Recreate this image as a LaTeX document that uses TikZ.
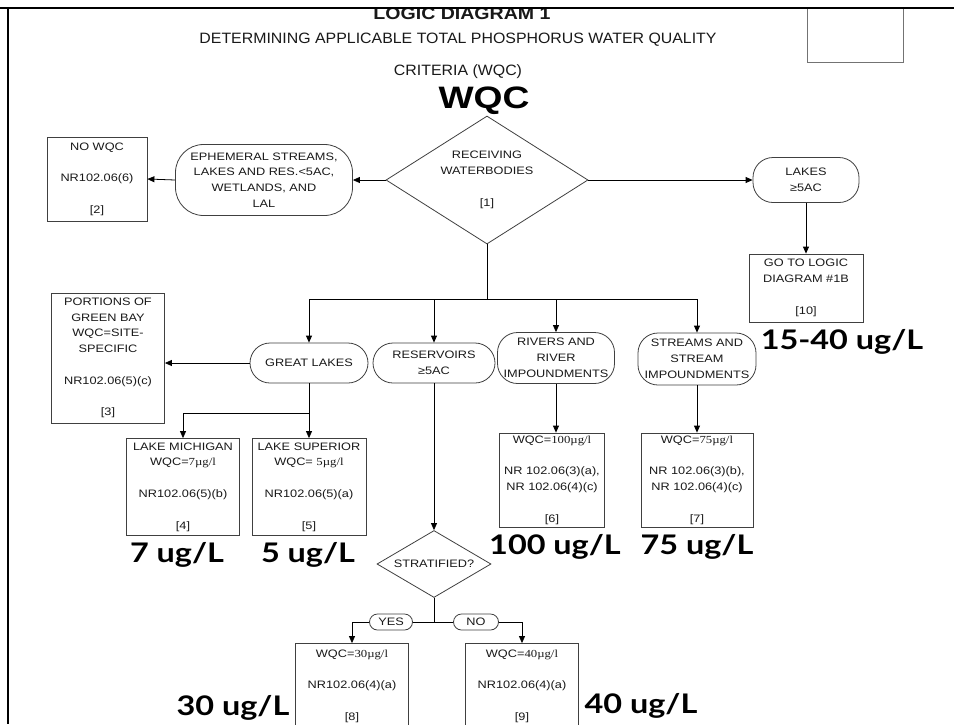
\documentclass[tikz,border=0pt]{standalone}
\usepackage{fontspec}
\usepackage{tikz}
\usetikzlibrary{shapes.geometric,arrows.meta}
\newfontfamily\boxfont[FakeStretch=1.18]{Liberation Sans}
\newfontfamily\unitfont[FakeStretch=1.18]{Liberation Serif}
\newfontfamily\headfont[FakeStretch=1.06]{Liberation Sans}
\newfontfamily\titlefont[FakeStretch=1.15]{Liberation Sans}
\newfontfamily\wqcfont[FakeStretch=1.2]{Liberation Sans}
\newfontfamily\valuefont[FakeStretch=1.2]{Lato}
\newcommand{\ugl}[1]{{\unitfont #1\textmu g/l}}

\begin{document}
\begin{tikzpicture} [x=1pt, y=-1pt,
	txt/.style={font=\boxfont\fontsize{10.8}{15.8}\selectfont, text=black!90, align=center, inner sep=0pt},
	box/.style={txt, draw=black!75, line width=0.8pt},
	stadium/.style={txt, draw=black!75, line width=0.8pt, rounded corners=20pt},
	decision/.style={txt, diamond, draw=black!75, line width=0.8pt},
	tag/.style={txt, draw=black!75, line width=0.8pt, rounded corners=8pt, minimum height=16pt, fill=white},
	heading/.style={font=\headfont\fontsize{15}{15}\selectfont, text=black!90},
	value/.style={font=\valuefont\bfseries\fontsize{27}{27}\selectfont, anchor=base},
	flow/.style={draw=black, line width=0.8pt, -{Triangle[length=7pt, width=6pt]}},
	link/.style={draw=black, line width=0.8pt}]
										\clip (0,0) rectangle (954,724);
										\fill [white] (0,0) rectangle (954,724);
										% headings
										\node [heading, font=\titlefont\bfseries\fontsize{17}{17}\selectfont] (title) at (462,14) {LOGIC DIAGRAM 1};
										\node [heading] (subtitle) at (458,40) {DETERMINING APPLICABLE TOTAL PHOSPHORUS WATER QUALITY};
										\node [heading] (criteria) at (458,72) {CRITERIA (WQC)};
										\node [font=\wqcfont\bfseries\fontsize{31}{31}\selectfont, anchor=base] (wqc) at (484,108) {WQC};
										\draw [black!55, line width=0.8pt] (807,8) rectangle (903,62);
										% first level
										\node [decision, aspect=1.6, minimum width=202pt, minimum height=128pt] (recv) at (487,180) {RECEIVING\\WATERBODIES\\[15.8pt][1]};
										\node [stadium, rounded corners=28pt, minimum width=177pt, minimum height=71pt] (ephem) at (264,180) {EPHEMERAL STREAMS,\\LAKES AND RES.<5AC,\\WETLANDS, AND\\LAL};
										\node [box, minimum width=100pt, minimum height=84pt] (nowqc) at (97,179) {NO WQC\\[15.8pt]NR102.06(6)\\[15.8pt][2]};
										\node [stadium, minimum width=106pt, minimum height=45pt] (lakes) at (806,180) {LAKES\\≥5AC};
										\node [box, minimum width=114pt, minimum height=68pt] (golb) at (806,288) {GO TO LOGIC\\DIAGRAM \#1B\\[15.8pt][10]};
										% second level
										\node [stadium, minimum width=118pt, minimum height=40pt] (great) at (309,363) {GREAT LAKES};
										\node [stadium, minimum width=122pt, minimum height=40pt] (reserv) at (434,363) {RESERVOIRS\\≥5AC};
										\node [stadium, minimum width=117pt, minimum height=51pt] (rivers) at (556,358) {RIVERS AND\\RIVER\\IMPOUNDMENTS};
										\node [stadium, minimum width=118pt, minimum height=52pt] (streams) at (697,359) {STREAMS AND\\STREAM\\IMPOUNDMENTS};
										\node [box, minimum width=113pt, minimum height=130pt] (greenbay) at (108,358) {PORTIONS OF\\GREEN BAY\\WQC=SITE-\\SPECIFIC\\[15.8pt]NR102.06(5)(c)\\[15.8pt][3]};
										\node [box, minimum width=113pt, minimum height=97pt] (michigan) at (183,487) {LAKE MICHIGAN\\WQC=\ugl{7}\\[15.8pt]NR102.06(5)(b)\\[15.8pt][4]};
										\node [box, minimum width=114pt, minimum height=97pt] (superior) at (309,487) {LAKE SUPERIOR\\WQC= \ugl{5}\\[15.8pt]NR102.06(5)(a)\\[15.8pt][5]};
										\node [box, minimum width=105pt, minimum height=94pt] (rivbox) at (552,480) {WQC=\ugl{100}\\[15.8pt]NR 102.06(3)(a),\\NR 102.06(4)(c)\\[15.8pt][6]};
										\node [box, minimum width=112pt, minimum height=94pt] (strbox) at (697,480) {WQC=\ugl{75}\\[15.8pt]NR 102.06(3)(b),\\NR 102.06(4)(c)\\[15.8pt][7]};
										% reservoirs branch
										\node [decision, aspect=1.7, minimum width=114pt, minimum height=67pt] (strat) at (434,564) {STRATIFIED?};
										\coordinate (stsplit) at (434,622);
										\node [tag, minimum width=43pt] (yes) at (391,622) {YES};
										\node [tag, minimum width=45pt] (no) at (476,622) {NO};
										\node [box, minimum width=113pt, minimum height=85pt] (stratbox) at (352,686) {WQC=\ugl{30}\\[15.8pt]NR102.06(4)(a)\\[15.8pt][8]};
										\node [box, minimum width=113pt, minimum height=85pt] (mixbox) at (522,686) {WQC=\ugl{40}\\[15.8pt]NR102.06(4)(a)\\[15.8pt][9]};
										% values
										\node [value] (v1040) at (842,349) {15-40 ug/L};
										\node [value] (v7) at (177,562) {7 ug/L};
										\node [value] (v5) at (308,562) {5 ug/L};
										\node [value] (v100) at (555,554) {100 ug/L};
										\node [value] (v75) at (697,554) {75 ug/L};
										\node [value] (v30) at (233,715) {30 ug/L};
										\node [value] (v40) at (641,713) {40 ug/L};
										% connectors
										\draw [flow] (recv.west) -- (ephem.east);
										\draw [flow] (ephem.west) -- (nowqc.east);
										\draw [flow] (recv.east) -- (lakes.west);
										\draw [flow] (lakes.south) -- (golb.north);
										\coordinate (bus) at (487,299);
										\draw [link] (recv.south) -- (bus);
										\draw [flow] (bus) -| (great.north);
										\draw [flow] (bus) -| (streams.north);
										\draw [flow] (reserv.north |- bus) -- (reserv.north);
										\draw [flow] (rivers.north |- bus) -- (rivers.north);
										\draw [flow] (great.west) -- (great.west -| greenbay.east);
										\coordinate (glsplit) at (309,413);
										\draw [flow] (great.south) -- (superior.north);
										\draw [flow] (glsplit) -| (michigan.north);
										\draw [flow] (reserv.south) -- (strat.north);
										\draw [flow] (rivers.south) -- (rivers.south |- rivbox.north);
										\draw [flow] (streams.south) -- (strbox.north);
										\draw [link] (strat.south) -- (stsplit);
										\draw [link] (stsplit) -- (yes.east);
										\draw [link] (stsplit) -- (no.west);
										\draw [flow] (yes.west) -| (stratbox.north);
										\draw [flow] (no.east) -| (mixbox.north);
										% frame
										\draw [black, line width=2pt] (0,8) -- (954,8);
										\draw [black, line width=2pt] (8,8) -- (8,724);
									\end{tikzpicture}
\end{document}
